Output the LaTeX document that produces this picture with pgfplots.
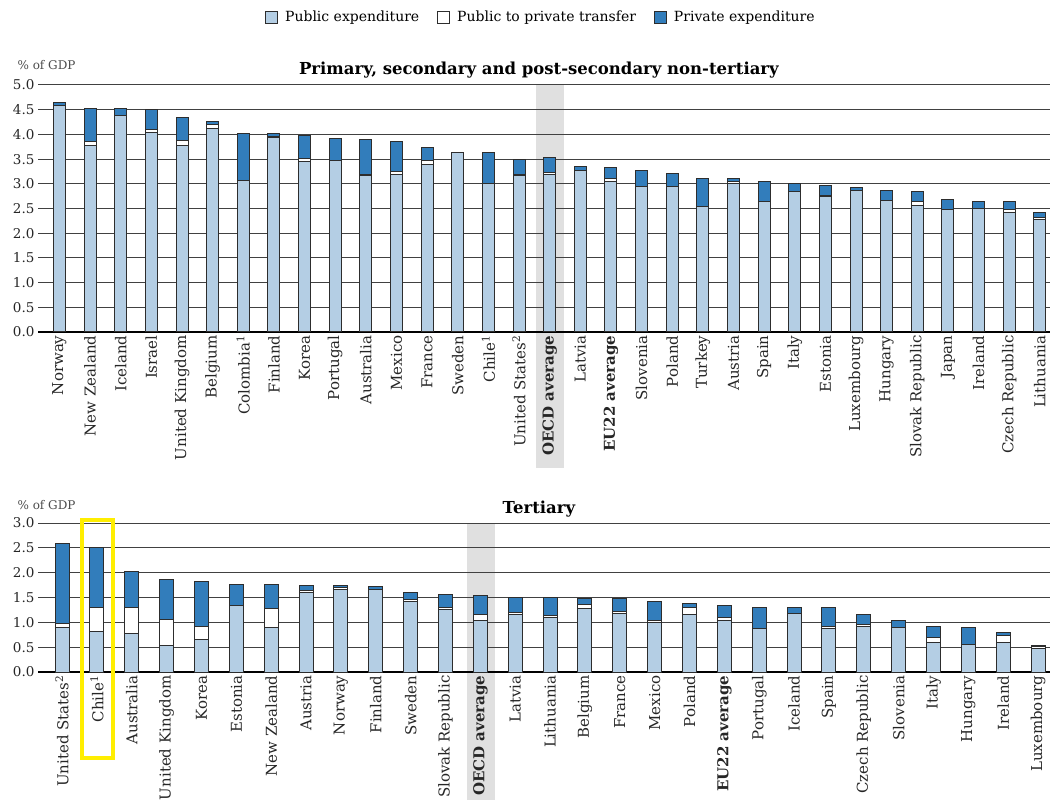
\documentclass[border=0pt]{standalone}
\usepackage{pgfplots}
\pgfplotsset{compat=1.18}
\usepackage{fontspec}
\setmainfont{DejaVu Serif}

\definecolor{pubblue}{RGB}{180,206,228}
\definecolor{privblue}{RGB}{50,125,187}
\definecolor{barline}{RGB}{45,45,45}
\definecolor{gridgray}{RGB}{65,65,65}
\definecolor{bandgray}{RGB}{224,224,224}
\definecolor{hlyellow}{RGB}{255,238,0}

% public, transfer, private (% of GDP)
\pgfplotstableread{
x pub tra pri
0  4.59 0.00 0.06
1  3.77 0.08 0.68
2  4.38 0.00 0.15
3  4.04 0.05 0.41
4  3.77 0.10 0.47
5  4.11 0.09 0.07
6  3.06 0.00 0.95
7  3.93 0.03 0.05
8  3.46 0.05 0.46
9  3.48 0.00 0.44
10 3.16 0.03 0.71
11 3.19 0.05 0.61
12 3.39 0.08 0.27
13 3.64 0.00 0.00
14 3.01 0.00 0.63
15 3.16 0.03 0.31
16 3.18 0.04 0.31
17 3.26 0.00 0.09
18 3.05 0.06 0.21
19 2.95 0.00 0.32
20 2.95 0.00 0.26
21 2.54 0.00 0.57
22 3.00 0.04 0.07
23 2.64 0.00 0.41
24 2.85 0.00 0.16
25 2.74 0.02 0.20
26 2.87 0.00 0.06
27 2.66 0.00 0.21
28 2.56 0.08 0.21
29 2.47 0.00 0.22
30 2.50 0.00 0.14
31 2.42 0.06 0.16
32 2.28 0.04 0.10
}\secondary

\pgfplotstableread{
x pub tra pri
0  0.90 0.08 1.60
1  0.81 0.49 1.20
2  0.77 0.53 0.73
3  0.54 0.51 0.82
4  0.66 0.26 0.90
5  1.34 0.00 0.43
6  0.90 0.38 0.49
7  1.60 0.04 0.10
8  1.66 0.04 0.04
9  1.66 0.00 0.06
10 1.42 0.04 0.15
11 1.26 0.04 0.27
12 1.03 0.13 0.39
13 1.15 0.04 0.31
14 1.09 0.04 0.37
15 1.27 0.08 0.13
16 1.17 0.05 0.26
17 1.00 0.03 0.39
18 1.16 0.13 0.08
19 1.03 0.06 0.25
20 0.87 0.00 0.42
21 1.18 0.00 0.11
22 0.87 0.04 0.38
23 0.92 0.04 0.19
24 0.89 0.00 0.14
25 0.60 0.09 0.23
26 0.55 0.00 0.35
27 0.60 0.13 0.06
28 0.47 0.04 0.03
}\tertiary

\pgfplotsset{
  oecd/.style={
    scale only axis, width=1012pt,
    clip=false,
    ybar stacked,
    axis x line=bottom, axis y line=left,
    y axis line style={draw=none},
    x axis line style={-, draw=black, line width=1.2pt},
    major tick length=0pt,
    ymajorgrids, grid style={gridgray, line width=1pt},
    ymin=0,
    yticklabel style={/pgf/number format/.cd, fixed, fixed zerofill, precision=1, assume math mode=true},
    tick label style={font=\fontsize{13.5}{15}\selectfont, text=black!85},
    xticklabel style={rotate=90, anchor=east, font=\fontsize{15}{17}\selectfont},
    every axis plot/.append style={draw=barline, line width=1pt},
  },
  pub/.style={fill=pubblue},
  tra/.style={fill=white},
  pri/.style={fill=privblue},
}

\begin{document}
\begin{tikzpicture}
\useasboundingbox (0,0) rectangle (1054pt,803pt);

% shaded columns behind the OECD average
\fill[bandgray] (535.5pt,335pt) rectangle (564pt,718pt);
\fill[bandgray] (466.5pt,3pt) rectangle (494.5pt,280pt);

% upper panel
\begin{axis}[oecd,
  at={(38pt,471pt)}, anchor=south west,
  height=247pt,
  ymax=5, ytick={0,0.5,1,1.5,2,2.5,3,3.5,4,4.5,5},
  xmin=-0.70, xmax=32.33,
  bar width=12pt,
  xtick={0,...,32},
  xticklabels={Norway, New Zealand, Iceland, Israel, United Kingdom, Belgium,
    {Colombia\textsuperscript{1}}, Finland, Korea, Portugal, Australia, Mexico, France,
    Sweden, {Chile\textsuperscript{1}}, {United States\textsuperscript{2}},
    \textbf{OECD average}, Latvia, \textbf{EU22 average}, Slovenia, Poland, Turkey,
    Austria, Spain, Italy, Estonia, Luxembourg, Hungary, Slovak Republic, Japan,
    Ireland, Czech Republic, Lithuania},
  legend columns=3,
  legend style={at={(0.497,1.275)}, anchor=center, draw=none,
    font=\fontsize{14}{16}\selectfont,
    /tikz/every odd column/.append style={column sep=5pt},
    /tikz/every even column/.append style={column sep=16pt}},
  legend image code/.code={\draw[#1, line width=0.9pt] (0pt,-6pt) rectangle (12pt,6pt);},
]
\addplot[pub] table[x=x, y=pub] {\secondary};
\addplot[tra] table[x=x, y=tra] {\secondary};
\addplot[pri] table[x=x, y=pri] {\secondary};
\legend{Public expenditure, Public to private transfer, Private expenditure}
\node[font=\bfseries\fontsize{16.5}{18}\selectfont] at (axis description cs:0.495,1.062)
  {Primary, secondary and post-secondary non-tertiary};
\node[anchor=west, font=\fontsize{12}{14}\selectfont, text=black!70]
  at (axis description cs:-0.0237,1.081) {\% of GDP};
\end{axis}

% lower panel
\begin{axis}[oecd,
  at={(38pt,131pt)}, anchor=south west,
  height=149pt,
  ymax=3, ytick={0,0.5,1,1.5,2,2.5,3},
  xmin=-0.69, xmax=28.34,
  bar width=14pt,
  xtick={0,...,28},
  xticklabels={{United States\textsuperscript{2}}, {Chile\textsuperscript{1}}, Australia,
    United Kingdom, Korea, Estonia, New Zealand, Austria, Norway, Finland, Sweden,
    Slovak Republic, \textbf{OECD average}, Latvia, Lithuania, Belgium, France, Mexico,
    Poland, \textbf{EU22 average}, Portugal, Iceland, Spain, Czech Republic, Slovenia,
    Italy, Hungary, Ireland, Luxembourg},
]
\addplot[pub] table[x=x, y=pub] {\tertiary};
\addplot[tra] table[x=x, y=tra] {\tertiary};
\addplot[pri] table[x=x, y=pri] {\tertiary};
\node[font=\bfseries\fontsize{16.5}{18}\selectfont] at (axis description cs:0.495,1.094) {Tertiary};
\node[anchor=west, font=\fontsize{12}{14}\selectfont, text=black!70]
  at (axis description cs:-0.0237,1.121) {\% of GDP};
\end{axis}

% highlight around Chile
\draw[hlyellow, line width=4pt] (82pt,45pt) rectangle (113pt,283pt);
\end{tikzpicture}
\end{document}
